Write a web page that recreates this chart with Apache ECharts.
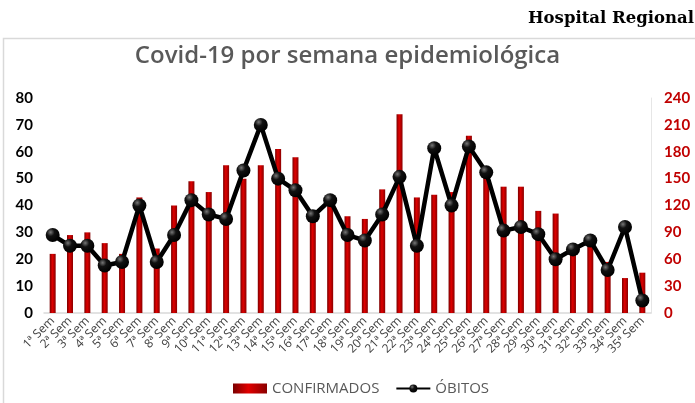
<!DOCTYPE html>
<html><head><meta charset="utf-8">
<script src="https://cdn.jsdelivr.net/npm/echarts@6/dist/echarts.min.js"></script>
<style>html,body{margin:0;padding:0;background:#fff}#c{width:695px;height:403px}</style>
</head><body><div id="c"></div>
<script>
var categories = [];
for (var i = 1; i <= 35; i++) categories.push(i + 'ª Sem');
var confirmados = [22,29,30,26,22,43,24,40,49,45,55,50,55,61,58,37,40,36,35,46,74,43,44,45,66,52,47,47,38,37,24,29,19,13,15];
var obitos = [87,75,75,53,57,120,57,87,126,110,105,159,210,150,137,108,126,87,81,110,152,75,184,120,186,157,92,96,88,60,71,81,48,96,14];
var leftTicks = [0,80,10];
var rightTicks = [0,240,30];

var chart = echarts.init(document.getElementById('c'), null, {renderer:'canvas'});
var barGrad = new echarts.graphic.LinearGradient(0,0,1,0,[
  {offset:0,color:'#7a0000'},{offset:0.45,color:'#e00000'},{offset:1,color:'#8a0000'}]);
var dotGrad = new echarts.graphic.RadialGradient(0.35,0.3,0.7,[
  {offset:0,color:'#777'},{offset:0.4,color:'#111'},{offset:1,color:'#000'}]);
chart.setOption({
  animation:false,
  graphic:[
    {type:'rect',shape:{x:3.5,y:38.5,width:760,height:400},style:{fill:'none',stroke:'#d9d9d9',lineWidth:1.5}},
    {type:'text',right:1,top:10,style:{text:'Hospital Regional',font:'bold 16.5px "DejaVu Serif"',fill:'#000'}}
  ],
  title:{text:'Covid-19 por semana epidemiológica',left:'center',top:39,
    textStyle:{fontFamily:'"Open Sans"',fontSize:24,fontWeight:600,color:'#595959'}},
  legend:{bottom:2,left:228,itemGap:16,itemWidth:34,itemHeight:10,
    textStyle:{fontFamily:'"Open Sans"',fontSize:15,color:'#595959'},
    data:[{name:'CONFIRMADOS',icon:'rect'},{name:'ÓBITOS'}]},
  grid:{left:44,right:44,top:98,bottom:90,containLabel:false},
  xAxis:{type:'category',data:categories,
    axisLine:{lineStyle:{color:'#d9d9d9',width:1.5}},axisTick:{show:false},
    axisLabel:{interval:0,rotate:45,fontSize:12,color:'#404040',fontFamily:'"Open Sans"',margin:6}},
  yAxis:[
    {type:'value',min:leftTicks[0],max:leftTicks[1],interval:leftTicks[2],splitLine:{show:false},
     axisLine:{show:false},axisTick:{show:false},
     axisLabel:{color:'#000',fontWeight:'bold',fontSize:15,fontFamily:'Lato',margin:11}},
    {type:'value',min:rightTicks[0],max:rightTicks[1],interval:rightTicks[2],splitLine:{show:false},
     axisLine:{show:true,lineStyle:{color:'#e6e6e6'}},axisTick:{show:false},
     axisLabel:{color:'#c00000',fontWeight:'bold',fontSize:15,fontFamily:'Lato',margin:13,align:'left'}}
  ],
  series:[
    {name:'CONFIRMADOS',type:'bar',data:confirmados,barWidth:6,yAxisIndex:0,
     itemStyle:{color:barGrad}},
    {name:'ÓBITOS',type:'line',data:obitos,yAxisIndex:1,symbol:'circle',symbolSize:14,
     lineStyle:{color:'#000',width:4.5},itemStyle:{color:dotGrad,borderWidth:0},z:3}
  ]
});
</script></body></html>
